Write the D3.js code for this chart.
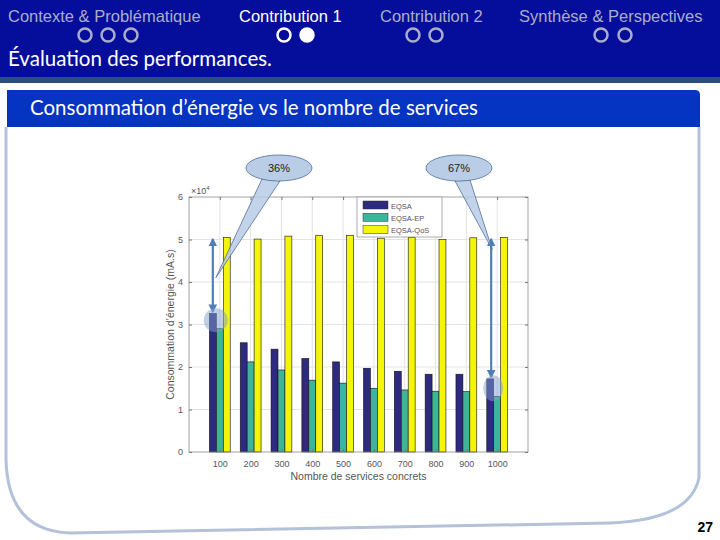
<!DOCTYPE html>
<html>
<head>
<meta charset="utf-8">
<script src="https://cdn.jsdelivr.net/npm/d3@7"></script>
<style>
  body { margin: 0; background: #fff; }
  svg { display: block; }
</style>
</head>
<body>
<script>
// data (x10^4 mA.s)
var services = [100, 200, 300, 400, 500, 600, 700, 800, 900, 1000];
var eqsa   = [3.26, 2.57, 2.42, 2.20, 2.12, 1.97, 1.90, 1.83, 1.83, 1.72];
var eqsaEP = [2.90, 2.12, 1.93, 1.69, 1.62, 1.50, 1.46, 1.43, 1.42, 1.31];
var eqsaQoS = [5.05, 5.01, 5.08, 5.10, 5.10, 5.03, 5.05, 5.00, 5.04, 5.05];
var seriesNames = ["EQSA", "EQSA-EP", "EQSA-QoS"];
var seriesColors = ["#2e2a80", "#3cb59b", "#f5f50c"];
var yTicks = [0, 1, 2, 3, 4, 5, 6];
var navItems = ["Contexte & Problématique", "Contribution 1", "Contribution 2", "Synthèse & Perspectives"];

var svg = d3.select("body").append("svg").attr("width", 720).attr("height", 540);

// header band
svg.append("rect").attr("width", 720).attr("height", 77).attr("fill", "#050d9b");
svg.append("rect").attr("y", 77).attr("width", 720).attr("height", 6).attr("fill", "#2b4c7e");

// nav items
var navX = [8, 239, 380, 519];
var dotX = [[85, 108, 131], [284, 307], [413, 436], [601, 625]];
navItems.forEach(function(t, i) {
    var active = (i == 1);
    svg.append("text")
        .attr("x", navX[i]).attr("y", 22)
        .attr("fill", active ? "#ffffff" : "#a9adc9")
        .style("font-family", "Liberation Sans, Arial, sans-serif")
        .style("font-size", "16.5px")
        .text(t);
    dotX[i].forEach(function(cx, j) {
        svg.append("circle")
            .attr("cx", cx).attr("cy", 35).attr("r", 6.5)
            .attr("fill", (active && j == 1) ? "#ffffff" : "none")
            .attr("stroke", active ? "#ffffff" : "#a9adc9")
            .attr("stroke-width", 2.5);
    });
});

svg.append("text")
    .attr("x", 8).attr("y", 66)
    .attr("fill", "#ffffff")
    .style("font-family", "Lato, sans-serif")
    .style("font-size", "20.5px")
    .text("Évaluation des performances.");

// panel
svg.append("path")
    .attr("d", "M6,127 L6,460 Q8,531 70,533 L610,523 Q690,520 699,478 L699,127")
    .attr("fill", "none")
    .attr("stroke", "#b3c1d9")
    .attr("stroke-width", 3);
svg.append("path")
    .attr("d", "M7,90 L695,90 Q700,90 700,95 L700,127 L7,127 Z")
    .attr("fill", "#0533c2");
svg.append("text")
    .attr("x", 30).attr("y", 115)
    .attr("fill", "#ffffff")
    .style("font-family", "Lato, sans-serif")
    .style("font-size", "20.5px")
    .text("Consommation d’énergie vs le nombre de services");

// chart
var x = d3.scaleLinear().domain([0, services.length + 1]).range([189, 528]);
var y = d3.scaleLinear().domain([0, 6]).range([452, 197]);
var chart = svg.append("g");

// grid
chart.selectAll(".hg").data(yTicks.slice(1, -1)).enter().append("line")
    .attr("x1", x(0)).attr("x2", x(11))
    .attr("y1", d => y(d)).attr("y2", d => y(d))
    .attr("stroke", "#e3e3e3");
chart.selectAll(".vg").data(services).enter().append("line")
    .attr("x1", (d, i) => x(i + 1)).attr("x2", (d, i) => x(i + 1))
    .attr("y1", y(0)).attr("y2", y(6))
    .attr("stroke", "#e3e3e3");

// bars
var all = [eqsa, eqsaEP, eqsaQoS];
var bw = 0.225;
all.forEach(function(vals, s) {
    chart.selectAll(".b" + s).data(vals).enter().append("rect")
        .attr("x", (d, i) => x(i + 1 + (s - 1) * bw - bw / 2))
        .attr("width", x(bw) - x(0))
        .attr("y", d => y(d))
        .attr("height", d => y(0) - y(d))
        .attr("fill", seriesColors[s])
        .attr("stroke", "#111")
        .attr("stroke-width", 0.6);
});

// axes box
var tickFont = "Liberation Sans, Arial, sans-serif";
chart.append("rect")
    .attr("x", x(0)).attr("y", y(6))
    .attr("width", x(11) - x(0)).attr("height", y(0) - y(6))
    .attr("fill", "none").attr("stroke", "#8a8a8a").attr("stroke-width", 0.8);

var yAxis = d3.axisLeft(y).tickValues(yTicks).tickFormat(d3.format("d")).tickSize(-3).tickPadding(6);
var gy = chart.append("g").attr("transform", "translate(" + x(0) + ",0)").call(yAxis);
var gyr = chart.append("g").attr("transform", "translate(" + x(11) + ",0)")
    .call(d3.axisRight(y).tickValues(yTicks).tickSize(-3).tickFormat(""));
var xAxis = d3.axisBottom(x).tickValues(d3.range(1, 11))
    .tickFormat((d) => services[d - 1]).tickSize(-3).tickPadding(9);
var gx = chart.append("g").attr("transform", "translate(0," + y(0) + ")").call(xAxis);
var gxt = chart.append("g").attr("transform", "translate(0," + y(6) + ")")
    .call(d3.axisTop(x).tickValues(d3.range(1, 11)).tickSize(-3).tickFormat(""));
[gy, gyr, gx, gxt].forEach(function(g) {
    g.select(".domain").remove();
    g.selectAll("line").attr("stroke", "#777");
    g.selectAll("text").attr("fill", "#555")
        .style("font-family", tickFont).style("font-size", "9px");
});

chart.append("text")
    .attr("x", 191).attr("y", 194)
    .attr("fill", "#555")
    .style("font-family", tickFont).style("font-size", "9px")
    .html("×10<tspan dy='-4' font-size='6px'>4</tspan>");

chart.append("text")
    .attr("transform", "translate(174," + y(3) + ") rotate(-90)")
    .attr("text-anchor", "middle")
    .attr("fill", "#555")
    .style("font-family", tickFont).style("font-size", "10.5px")
    .text("Consommation d’énergie (mA.s)");
chart.append("text")
    .attr("x", (x(0) + x(11)) / 2).attr("y", 480)
    .attr("text-anchor", "middle")
    .attr("fill", "#555")
    .style("font-family", tickFont).style("font-size", "10.5px")
    .text("Nombre de services concrets");

// legend
var lg = chart.append("g").attr("transform", "translate(357,197)");
lg.append("rect").attr("width", 85).attr("height", 40)
    .attr("fill", "#fff").attr("stroke", "#999").attr("stroke-width", 0.8);
seriesNames.forEach(function(n, i) {
    lg.append("rect").attr("x", 6).attr("y", 4 + i * 12.3).attr("width", 25).attr("height", 8)
        .attr("fill", seriesColors[i]).attr("stroke", "#333").attr("stroke-width", 0.5);
    lg.append("text").attr("x", 34).attr("y", 11.5 + i * 12.3)
        .attr("fill", "#555")
        .style("font-family", tickFont).style("font-size", "7.5px")
        .text(n);
});

// annotations
var ann = svg.append("g");
var defs = svg.append("defs");
defs.append("marker").attr("id", "ah")
    .attr("viewBox", "0 0 10 10").attr("refX", 8).attr("refY", 5)
    .attr("markerWidth", 4).attr("markerHeight", 4).attr("orient", "auto-start-reverse")
    .append("path").attr("d", "M0,0 L10,5 L0,10 Z").attr("fill", "#4f7fb6");

function dblArrow(i, v1, v2, dx) {
    ann.append("line")
        .attr("x1", x(i + 1) + dx).attr("x2", x(i + 1) + dx)
        .attr("y1", y(v1) + 2).attr("y2", y(v2) - 2)
        .attr("stroke", "#4f7fb6").attr("stroke-width", 2.2)
        .attr("marker-start", "url(#ah)").attr("marker-end", "url(#ah)");
}
dblArrow(0, eqsaQoS[0], eqsa[0], -7);
dblArrow(9, eqsaQoS[9], eqsa[9], -6);

ann.append("circle").attr("cx", x(1) - 4).attr("cy", y(3.1)).attr("r", 12)
    .attr("fill", "#7d9fd0").attr("fill-opacity", 0.5);
ann.append("ellipse").attr("cx", x(10) - 4).attr("cy", y(1.5)).attr("rx", 10).attr("ry", 13)
    .attr("fill", "#7d9fd0").attr("fill-opacity", 0.5);

function callout(cx, cy, tipX, tipY, b1, b2, label) {
    ann.append("path")
        .attr("d", "M" + b1[0] + "," + b1[1] + " L" + tipX + "," + tipY + " L" + b2[0] + "," + b2[1] + " Z")
        .attr("fill", "#b9cde6").attr("fill-opacity", 0.85)
        .attr("stroke", "#4e6f9a").attr("stroke-width", 0.8);
    ann.append("ellipse").attr("cx", cx).attr("cy", cy).attr("rx", 33).attr("ry", 13)
        .attr("fill", "#b9cde6").attr("stroke", "#4e6f9a").attr("stroke-width", 0.8);
    ann.append("path")
        .attr("d", "M" + (b1[0] + 1) + "," + (b1[1] - 2) + " L" + (b2[0] - 1) + "," + (b2[1] - 2))
        .attr("stroke", "#b9cde6").attr("stroke-width", 3);
    ann.append("text").attr("x", cx).attr("y", cy + 4)
        .attr("text-anchor", "middle").attr("fill", "#222")
        .style("font-family", "Liberation Sans, Arial, sans-serif").style("font-size", "11px")
        .text(label);
}
callout(279, 168, x(1) - 4, y(4.1), [262, 179], [280, 181], "36%");
callout(459, 168, x(10) - 5, y(5.8) + 44, [455, 181], [470, 180], "67%");

svg.append("text")
    .attr("x", 713).attr("y", 532)
    .attr("text-anchor", "end")
    .attr("fill", "#000")
    .style("font-family", "Liberation Sans, Arial, sans-serif")
    .style("font-size", "14px").style("font-weight", "bold")
    .text("27");
</script>
</body>
</html>
